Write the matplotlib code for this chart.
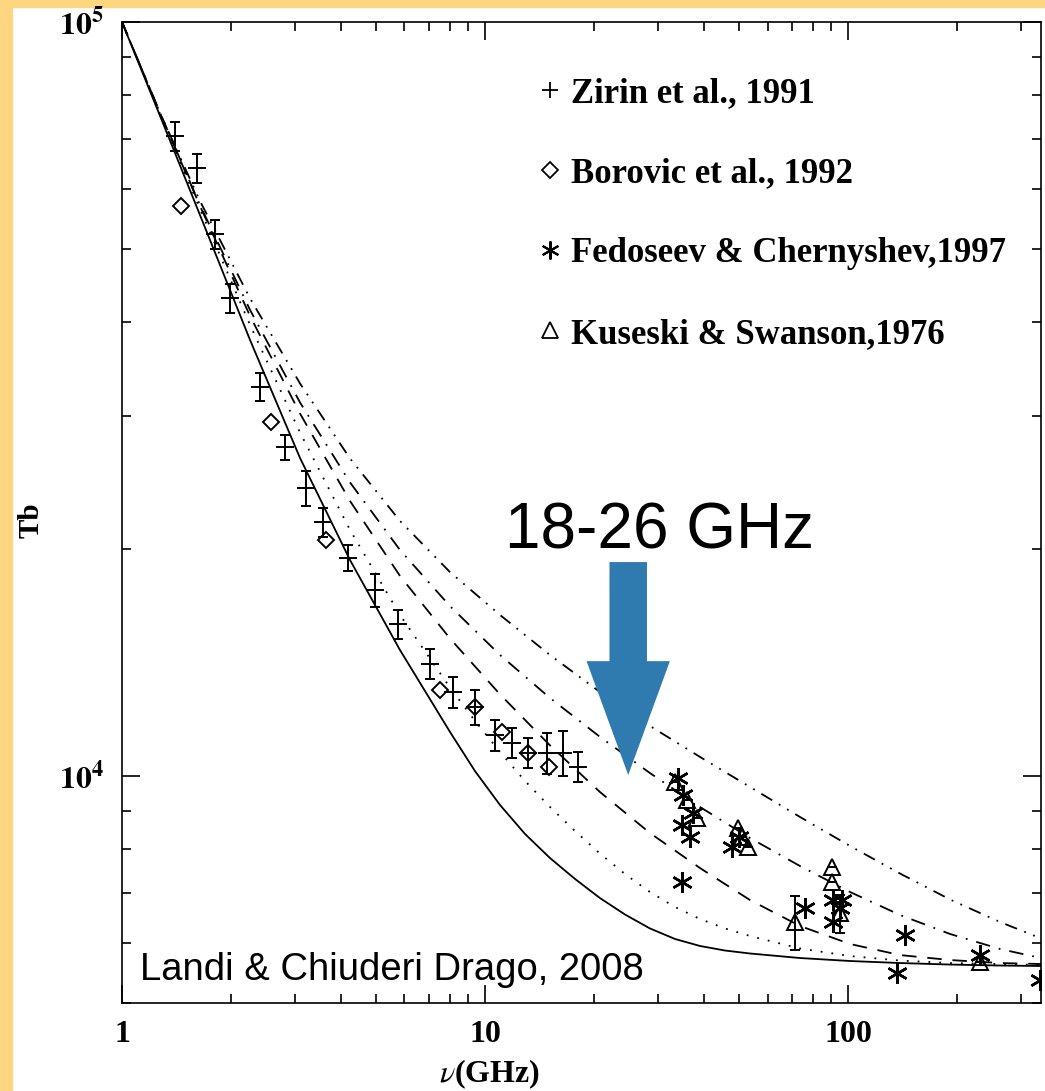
import numpy as np
import matplotlib.pyplot as plt
from matplotlib.lines import Line2D
from matplotlib.patches import Rectangle
from matplotlib.ticker import NullFormatter

plt.rcParams['mathtext.fontset'] = 'stix'
SERIF = 'Liberation Serif'
SANS = 'Liberation Sans'

# --- model curves (frequency in GHz, brightness temperature in K) ---
nu_solid = [1.0, 1.273, 1.640, 2.253, 3.093, 4.247, 5.832, 8.008, 9.386, 11.00, 12.89,
            15.10, 17.70, 20.73, 24.30, 28.47, 33.38, 39.10, 45.83, 53.70, 73.76, 101.3,
            139.1, 191.0, 262.3, 340]
tb_solid = [100000, 75060, 55460, 37860, 26410, 19340, 14690, 11440, 10150, 9152, 8377,
            7784, 7302, 6889, 6551, 6278, 6079, 5951, 5869, 5816, 5736, 5684,
            5649, 5623, 5606, 5598]

nu_dot = [1.0, 1.273, 1.640, 2.253, 3.093, 4.247, 5.832, 8.008, 9.386, 11.00, 12.89,
          15.10, 17.70, 20.73, 24.30, 28.47, 33.38, 39.10, 45.83, 53.70, 73.76, 101.3,
          139.1, 191.0, 262.3, 340]
tb_dot = [100000, 75500, 56490, 39640, 28550, 21200, 16350, 13100, 11830, 10760, 9848,
          9097, 8454, 7891, 7413, 7017, 6703, 6462, 6278, 6135, 5905, 5771,
          5692, 5649, 5632, 5615]

nu_dash = [1.0, 1.273, 1.640, 2.253, 3.093, 4.247, 5.832, 8.008, 11.00, 15.10, 20.73,
           28.47, 39.10, 53.70, 73.76, 101.3, 139.1, 191.0, 262.3, 340]
tb_dash = [100000, 75740, 57010, 40740, 30250, 23160, 18420, 15220, 12830, 10980, 9523,
           8402, 7550, 6847, 6325, 5987, 5788, 5701, 5649, 5632]

nu_dashdot = [1.0, 1.273, 1.640, 2.253, 3.093, 4.247, 5.832, 8.008, 11.00, 15.10, 20.73,
              28.47, 39.10, 53.70, 73.76, 101.3, 139.1, 191.0, 262.3, 340]
tb_dashdot = [100000, 75740, 57180, 41500, 31290, 24510, 19940, 16800, 14470, 12690, 11270,
              10090, 9097, 8275, 7596, 7017, 6541, 6173, 5896, 5736]

nu_dash3dot = [1.0, 1.273, 1.640, 2.253, 3.093, 4.247, 5.832, 8.008, 11.00, 15.10, 20.73,
               28.47, 39.10, 53.70, 73.76, 101.3, 139.1, 191.0, 262.3, 340]
tb_dash3dot = [100000, 75740, 57880, 42990, 33160, 26370, 21790, 18640, 16350, 14470, 12925,
               11650, 10600, 9670, 8823, 8075, 7424, 6858, 6403, 6090]

# --- observations ---
zirin_nu = [1.40, 1.61, 1.80, 1.98, 2.40, 2.81, 3.21, 3.58, 4.19, 4.98, 5.76, 7.06,
            8.16, 9.39, 10.65, 11.87, 13.14, 14.82, 16.4, 18.04]
zirin_tb = [70610, 64040, 52340, 43050, 32820, 27310, 24100, 21730, 19460, 17650, 15910,
            14090, 12925, 12345, 11330, 11060, 10730, 10730, 10730, 10280]
zirin_err = [3080, 2790, 2300, 1890, 1430, 1050, 1270, 950, 770, 880, 700, 650,
             600, 660, 520, 510, 490, 670, 740, 470]

borovic_nu = [1.454, 2.57, 3.65, 7.52, 9.39, 11.14, 13.14, 15.0]
borovic_tb = [57020, 29480, 20560, 13000, 12345, 11440, 10730, 10280]

fedoseev_nu = [34.0, 35.1, 37.4, 34.9, 36.6, 34.9, 47.9, 50.0, 76.1, 90.8, 96.0,
               90.8, 94.8, 143.6, 136.5, 231, 338]
fedoseev_tb = [9940, 9436, 8932, 8610, 8300, 7234, 8051, 8290, 6683, 6847, 6847,
               6404, 6683, 6153, 5480, 5788, 5362]

kuseski_nu = [33.3, 36.0, 38.3, 49.8, 51.0, 53.0, 71.5, 90.3, 90.3, 94.8, 231]
kuseski_tb = [9820, 9290, 8793, 8533, 8290, 8051, 6404, 7574, 7238, 6577, 5665]
kuseski_err = [0, 0, 0, 0, 0, 0, 520, 0, 0, 385, 0]

legend_labels = ['Zirin et al., 1991', 'Borovic et al., 1992',
                 'Fedoseev & Chernyshev,1997', 'Kuseski & Swanson,1976']

# arrow marking the 18-26 GHz band
arrow_nu = 24.8
arrow_tb_top = 19220
arrow_tb_tip = 10030

fig = plt.figure(figsize=(10.45, 10.91), dpi=100)
# orange slide border
fig.patches.append(Rectangle((0, 0), 12 / 1045, 1, transform=fig.transFigure,
                             color='#FFD680', zorder=-1))
fig.patches.append(Rectangle((0, 1 - 7 / 1091), 1, 7 / 1091, transform=fig.transFigure,
                             color='#FFD680', zorder=-1))

ax = fig.add_axes([122 / 1045, 88 / 1091, 919 / 1045, 981 / 1091])
ax.set_xscale('log')
ax.set_yscale('log')
ax.set_xlim(1, 340)
ax.set_ylim(5000, 1e5)

lw = 1.3
ax.plot(nu_solid, tb_solid, color='k', lw=lw, ls='-')
ax.plot(nu_dot, tb_dot, color='k', lw=lw, ls=(0, (1, 5)))
ax.plot(nu_dash, tb_dash, color='k', lw=lw, ls=(0, (8, 6)))
ax.plot(nu_dashdot, tb_dashdot, color='k', lw=lw, ls=(0, (8, 5, 1, 5)))
ax.plot(nu_dash3dot, tb_dash3dot, color='k', lw=lw, ls=(0, (7, 4.3, 1, 4.3, 1, 4.3)))

ax.errorbar(zirin_nu, zirin_tb, yerr=zirin_err, fmt='+', color='k', ms=13, mew=1.4,
            elinewidth=1.4, capsize=3.5, capthick=1.4)
ax.plot(borovic_nu, borovic_tb, 'D', mfc='none', mec='k', ms=8.5, mew=1.4)
ax.plot(fedoseev_nu, fedoseev_tb, ls='none', marker=(6, 2, 0), color='k', ms=15, mew=1.8)
ax.errorbar(kuseski_nu, kuseski_tb, yerr=kuseski_err, fmt='^', mfc='none', mec='k',
            ecolor='k', ms=12, mew=1.4, elinewidth=1.4, capsize=3.5, capthick=1.4)

# ticks
ax.tick_params(which='both', direction='in', top=True, right=True, width=1.2)
ax.tick_params(which='major', length=13)
ax.tick_params(which='minor', length=6.5)
ax.tick_params(axis='x', which='major', pad=12)
ax.tick_params(axis='y', which='major', pad=13)
ax.set_xticks([1, 10, 100], labels=['1', '10', '100'])
ax.set_yticks([1e4, 1e5], labels=[r'$\mathbf{10^4}$', r'$\mathbf{10^5}$'])
ax.xaxis.set_minor_formatter(NullFormatter())
ax.yaxis.set_minor_formatter(NullFormatter())
for lab in ax.get_xticklabels() + ax.get_yticklabels():
    lab.set_fontfamily(SERIF)
    lab.set_fontweight('bold')
    lab.set_fontsize(23)
for sp in ax.spines.values():
    sp.set_linewidth(1.2)

ax.set_xlabel(r'$\nu$(GHz)', fontfamily=SERIF, fontweight='bold', fontsize=23)
ax.xaxis.set_label_coords(0.4, -0.055)
ax.set_ylabel('Tb', fontfamily=SERIF, fontweight='bold', fontsize=21)
ax.yaxis.set_label_coords(-0.084, 0.492)

handles = [Line2D([], [], ls='none', marker='+', color='k', ms=12, mew=1.3),
           Line2D([], [], ls='none', marker='D', mfc='none', mec='k', ms=8, mew=1.3),
           Line2D([], [], ls='none', marker=(6, 2, 0), color='k', ms=13, mew=1.5),
           Line2D([], [], ls='none', marker='^', mfc='none', mec='k', ms=11, mew=1.3)]
ax.legend(handles, legend_labels, loc='upper left', bbox_to_anchor=(0.4527, 0.944),
          frameon=False, borderpad=0, borderaxespad=0, handlelength=0.7,
          handletextpad=0.25, labelspacing=1.36,
          prop={'family': SERIF, 'weight': 'bold', 'size': 25})

# slide annotations
ax.annotate('', xy=(arrow_nu, arrow_tb_tip), xytext=(arrow_nu, arrow_tb_top),
            arrowprops=dict(arrowstyle='simple,head_length=82,head_width=60,tail_width=27',
                            mutation_scale=1, fc='#2F7BB0', ec='none',
                            shrinkA=0, shrinkB=0), zorder=5)
ax.text(0.5854, 0.4638, '18-26 GHz', transform=ax.transAxes, ha='center', va='baseline',
        fontfamily=SANS, fontsize=46, zorder=6)
ax.text(0.0196, 0.0234, 'Landi & Chiuderi Drago, 2008', transform=ax.transAxes,
        ha='left', va='baseline', fontfamily=SANS, fontsize=27.5, zorder=6)

fig.savefig('out.png', dpi=100)
